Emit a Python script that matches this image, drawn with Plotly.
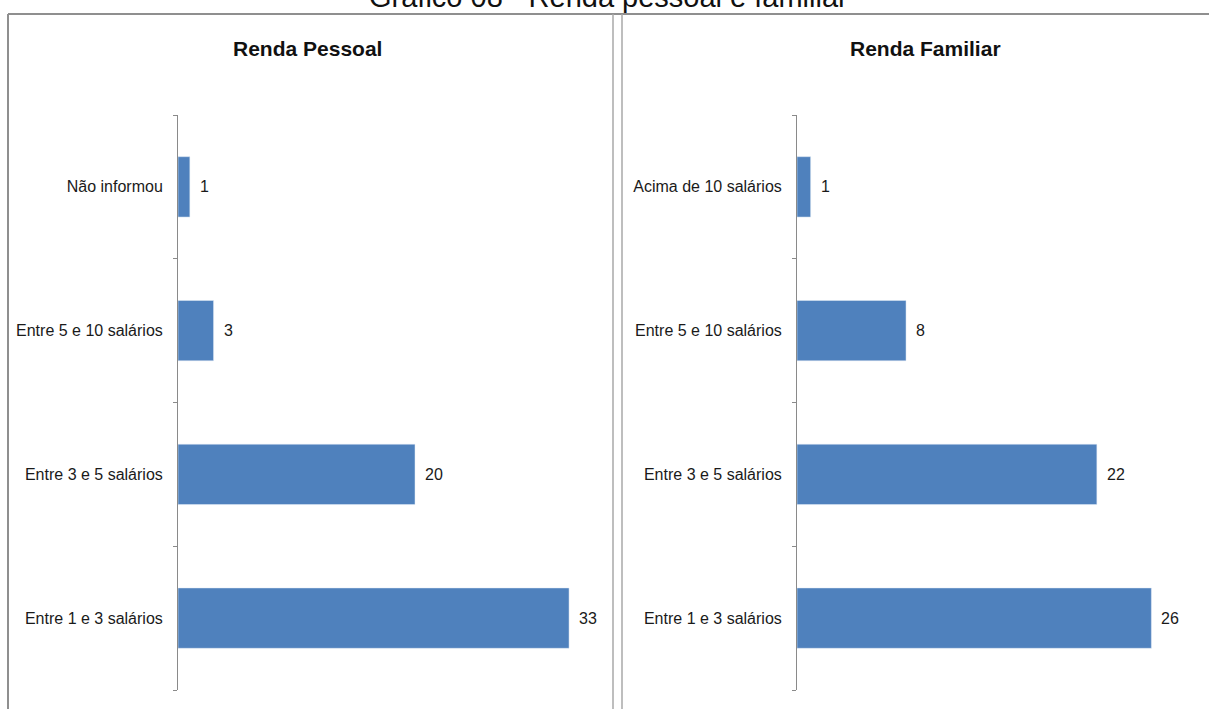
import plotly.graph_objects as go

W, H = 1209, 709

# Data
pessoal_cats = ["Entre 1 e 3 salários", "Entre 3 e 5 salários", "Entre 5 e 10 salários", "Não informou"]
pessoal_vals = [33, 20, 3, 1]
familiar_cats = ["Entre 1 e 3 salários", "Entre 3 e 5 salários", "Entre 5 e 10 salários", "Acima de 10 salários"]
familiar_vals = [26, 22, 8, 1]
main_title = "Gráfico 08 - Renda pessoal e familiar"
left_title = "Renda Pessoal"
right_title = "Renda Familiar"

BAR = "#4F81BD"
FONT = "Liberation Sans, Arial, sans-serif"
TXT = "#1a1a1a"

def px_x(p):
    return p / W

def px_y(p):
    return 1 - p / H

fig = go.Figure()
fig.add_trace(go.Bar(x=pessoal_vals, y=pessoal_cats, orientation="h", marker_color=BAR,
                     xaxis="x", yaxis="y", showlegend=False, hoverinfo="x+y"))
fig.add_trace(go.Bar(x=familiar_vals, y=familiar_cats, orientation="h", marker_color=BAR,
                     xaxis="x2", yaxis="y2", showlegend=False, hoverinfo="x+y"))

y_dom = [px_y(690), px_y(115)]
yax = dict(domain=y_dom, type="category", range=[-0.5, 3.5], showline=True, linecolor="#8a8a8a",
           linewidth=1, ticks="outside", ticklen=4, tickcolor="#8a8a8a", tickson="boundaries",
           showgrid=False, automargin=False,
           tickfont=dict(family=FONT, size=16, color=TXT), ticklabelstandoff=11)
fig.update_layout(
    width=W, height=H, margin=dict(l=0, r=0, t=0, b=0, autoexpand=False),
    paper_bgcolor="white", plot_bgcolor="white", bargap=0.58,
    xaxis=dict(domain=[px_x(178), px_x(612)], range=[0, 434 / 11.85], visible=False,
               anchor="y", automargin=False),
    yaxis=dict(anchor="x", **yax),
    xaxis2=dict(domain=[px_x(797), px_x(1203)], range=[0, 406 / 13.63], visible=False,
                anchor="y2", automargin=False),
    yaxis2=dict(anchor="x2", **yax),
)

ann = []
for cats, vals, xr, yr in [(pessoal_cats, pessoal_vals, "x", "y"), (familiar_cats, familiar_vals, "x2", "y2")]:
    for c, v in zip(cats, vals):
        ann.append(dict(x=v, y=c, xref=xr, yref=yr, text=str(v), showarrow=False, xanchor="left",
                        xshift=8, font=dict(family=FONT, size=16, color=TXT)))

ann.append(dict(x=px_x(307), y=px_y(48), xref="paper", yref="paper", text="<b>" + left_title + "</b>",
                showarrow=False, xanchor="center", yanchor="middle",
                font=dict(family=FONT, size=21, color="#111")))
ann.append(dict(x=px_x(925), y=px_y(48), xref="paper", yref="paper", text="<b>" + right_title + "</b>",
                showarrow=False, xanchor="center", yanchor="middle",
                font=dict(family=FONT, size=21, color="#111")))
ann.append(dict(x=px_x(608), y=px_y(-3), xref="paper", yref="paper", text=main_title,
                showarrow=False, xanchor="center", yanchor="middle",
                font=dict(family=FONT, size=29, color="#111")))
fig.update_layout(annotations=ann)

line = dict(color="#8f8f8f", width=2)
shapes = [
    dict(type="line", xref="paper", yref="paper", x0=px_x(8), x1=1, y0=px_y(14), y1=px_y(14), line=line),
    dict(type="line", xref="paper", yref="paper", x0=px_x(8), x1=px_x(8), y0=px_y(14), y1=0, line=line),
    dict(type="line", xref="paper", yref="paper", x0=px_x(613), x1=px_x(613), y0=px_y(14), y1=0,
         line=dict(color="#a8a8a8", width=1.5)),
    dict(type="line", xref="paper", yref="paper", x0=px_x(622), x1=px_x(622), y0=px_y(14), y1=0,
         line=dict(color="#a8a8a8", width=1.5)),
]
fig.update_layout(shapes=shapes)

fig.write_html("out.html")
